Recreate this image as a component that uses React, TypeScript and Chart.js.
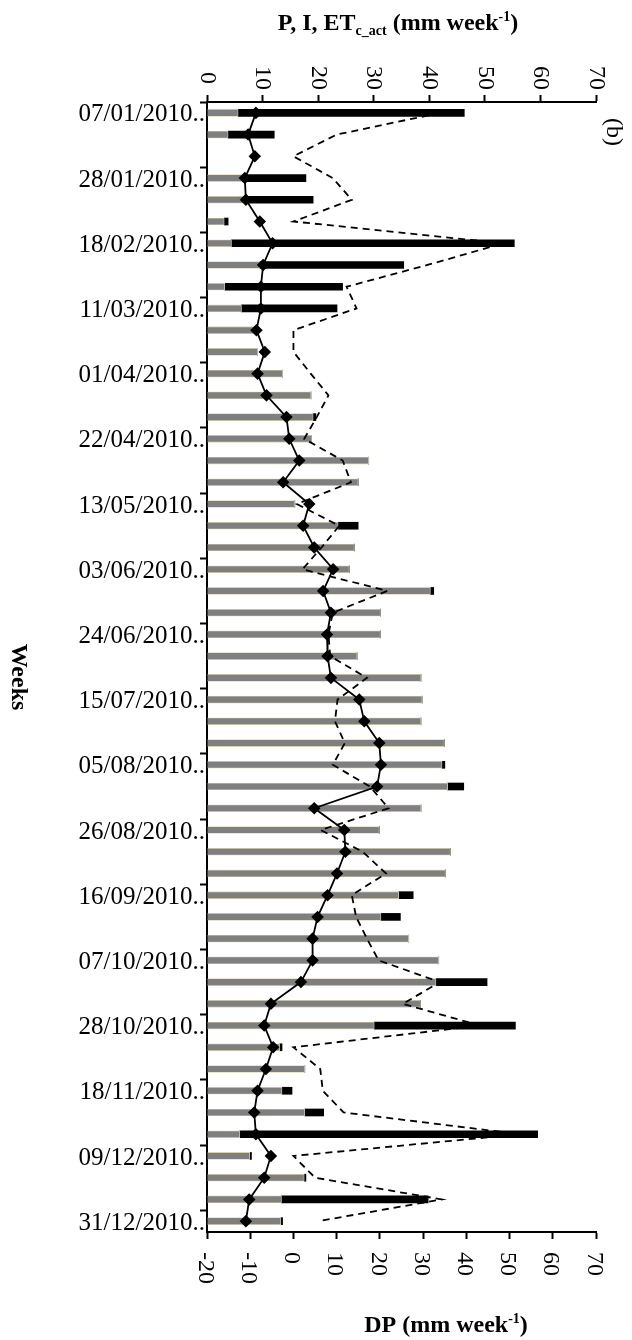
import React, { useEffect, useRef } from "react";
import { Chart, registerables } from "chart.js";

Chart.register(...registerables);

// Weekly dates (categories)
const weeks = [
  "07/01/2010", "14/01/2010", "21/01/2010", "28/01/2010",
  "04/02/2010", "11/02/2010", "18/02/2010", "25/02/2010",
  "04/03/2010", "11/03/2010", "18/03/2010", "25/03/2010",
  "01/04/2010", "08/04/2010", "15/04/2010", "22/04/2010", "29/04/2010",
  "06/05/2010", "13/05/2010", "20/05/2010", "27/05/2010",
  "03/06/2010", "10/06/2010", "17/06/2010", "24/06/2010",
  "01/07/2010", "08/07/2010", "15/07/2010", "22/07/2010", "29/07/2010",
  "05/08/2010", "12/08/2010", "19/08/2010", "26/08/2010",
  "02/09/2010", "09/09/2010", "16/09/2010", "23/09/2010", "30/09/2010",
  "07/10/2010", "14/10/2010", "21/10/2010", "28/10/2010",
  "04/11/2010", "11/11/2010", "18/11/2010", "25/11/2010",
  "02/12/2010", "09/12/2010", "16/12/2010", "23/12/2010", "31/12/2010",
];

// Grey bars (mm/week, top axis)
const irrigation = [
  5.6, 3.8, 0, 6.8, 6.8, 3.1, 4.4, 9.5, 3.2, 6.2,
  8.8, 9.1, 13.6, 18.7, 19.1, 18.8, 29.1, 27.2, 15.8, 23.6,
  26.5, 25.6, 40.2, 31.2, 31.2, 27.0, 38.5, 38.7, 38.5, 42.7,
  42.3, 43.3, 38.5, 31.0, 43.8, 42.9, 34.5, 31.3, 36.3, 41.7,
  41.2, 38.4, 30.1, 13.1, 17.6, 13.5, 17.6, 5.9, 7.7, 17.5,
  13.4, 13.3,
];

// Black bars (mm/week, top axis)
const precipitation = [
  40.7, 8.3, 0, 11.0, 12.3, 0.7, 50.9, 25.9, 21.2, 17.2,
  0, 0, 0, 0, 0.5, 0, 0, 0, 0, 3.6,
  0, 0, 0.6, 0, 0, 0, 0, 0, 0, 0,
  0.5, 2.9, 0, 0, 0, 0, 2.6, 3.5, 0, 0,
  9.2, 0, 25.4, 0.4, 0, 1.8, 3.4, 53.6, 0.3, 0.3,
  26.4, 0.3,
];

// ETc_act (solid line with diamonds, top axis)
const etcAct = [
  8.8, 7.4, 8.6, 6.8, 7.0, 9.5, 11.8, 10.1, 9.7, 9.7,
  8.9, 10.4, 9.1, 10.7, 14.3, 14.8, 16.6, 13.7, 18.4, 17.3,
  19.3, 22.7, 20.9, 22.3, 21.6, 21.7, 22.3, 27.4, 28.3, 31.0,
  31.3, 30.6, 19.3, 24.7, 24.9, 23.4, 21.7, 19.9, 19.0, 19.0,
  16.9, 11.5, 10.3, 11.9, 10.6, 9.1, 8.5, 8.8, 11.5, 10.3,
  7.6, 7.0,
];

// DP (dashed line, bottom axis)
const deepPercolation = [
  34.0, 10.0, 0, 9.1, 13.5, 0, 48.6, 31.0, 12.3, 14.6,
  0, 0, 4.0, 8.1, 5.4, 2.5, 11.4, 13.3, 0.8, 10.6,
  6.5, 2.1, 21.7, 9.1, 8.1, 8.5, 17.0, 10.2, 9.6, 11.9,
  9.1, 17.7, 22.0, 6.3, 16.0, 21.4, 13.5, 14.5, 17.0, 19.7,
  33.9, 25.3, 43.2, 0, 6.2, 6.8, 11.6, 52.5, 0, 5.0,
  34.3, 5.8,
];

const topTicks = [0, 10, 20, 30, 40, 50, 60, 70];
const bottomTicks = [-20, -10, 0, 10, 20, 30, 40, 50, 60, 70];

const FONT = "'Liberation Serif', 'Times New Roman', serif";

type Seg = { text: string; size: number; dy: number; bold: boolean };

function drawRich(ctx: CanvasRenderingContext2D, segs: Seg[], cx: number, baseline: number) {
  let total = 0;
  const widths: number[] = [];
  for (const s of segs) {
    ctx.font = `${s.bold ? "bold " : ""}${s.size}px ${FONT}`;
    const w = ctx.measureText(s.text).width;
    widths.push(w);
    total += w;
  }
  let x = cx - total / 2;
  ctx.textAlign = "left";
  ctx.textBaseline = "alphabetic";
  segs.forEach((s, i) => {
    ctx.font = `${s.bold ? "bold " : ""}${s.size}px ${FONT}`;
    ctx.fillText(s.text, x, baseline + s.dy);
    x += widths[i];
  });
}

function drawRotated(
  ctx: CanvasRenderingContext2D,
  text: string,
  x: number,
  y: number,
  font: string,
  align: CanvasTextAlign
) {
  ctx.save();
  ctx.translate(x, y);
  ctx.rotate(Math.PI / 2);
  ctx.font = font;
  ctx.textAlign = align;
  ctx.textBaseline = "middle";
  ctx.fillText(text, 0, 0);
  ctx.restore();
}

const textPlugin = {
  id: "customText",
  afterDraw(chart: any) {
    const ctx: CanvasRenderingContext2D = chart.ctx;
    const xs = chart.scales.x;
    const x2 = chart.scales.x2;
    const ys = chart.scales.y;
    ctx.save();
    ctx.fillStyle = "#000";

    // Week labels
    ctx.font = `25px ${FONT}`;
    ctx.textAlign = "right";
    ctx.textBaseline = "middle";
    weeks.forEach((w, i) => {
      if (i % 3 === 0) {
        const y = ys.getPixelForValue(i);
        ctx.fillText(w + "..", 205, y + 2);
      }
    });

    // Top tick labels
    topTicks.forEach((v) => {
      drawRotated(ctx, String(v), xs.getPixelForValue(v), 78, `24px ${FONT}`, "center");
    });

    // Bottom tick labels
    bottomTicks.forEach((v) => {
      drawRotated(ctx, String(v), x2.getPixelForValue(v) - 2, 1252, `24px ${FONT}`, "left");
    });

    // (b)
    drawRotated(ctx, "(b)", 613, 132, `24px ${FONT}`, "center");

    // Weeks title
    drawRotated(ctx, "Weeks", 18, 677, `bold 24px ${FONT}`, "center");

    // Top title
    drawRich(
      ctx,
      [
        { text: "P, I, ET", size: 24, dy: 0, bold: true },
        { text: "c_act", size: 14, dy: 5, bold: true },
        { text: " (mm week", size: 24, dy: 0, bold: true },
        { text: "-1", size: 14, dy: -9, bold: true },
        { text: ")", size: 24, dy: 0, bold: true },
      ],
      398,
      30
    );

    // Bottom title
    drawRich(
      ctx,
      [
        { text: "DP (mm week", size: 24, dy: 0, bold: true },
        { text: "-1", size: 14, dy: -9, bold: true },
        { text: ")", size: 24, dy: 0, bold: true },
      ],
      446,
      1332
    );

    ctx.restore();
  },
};

export default function App() {
  const canvasRef = useRef<HTMLCanvasElement | null>(null);

  useEffect(() => {
    const canvas = canvasRef.current;
    if (!canvas) return;
    const indices = weeks.map((_, i) => i);
    const axisGrid = {
      drawOnChartArea: false,
      drawTicks: true,
      tickLength: 7,
      tickWidth: 2,
      tickColor: "#000",
      color: "#000",
    };
    const chart = new Chart(canvas, {
      type: "bar",
      data: {
        labels: indices as any,
        datasets: [
          {
            type: "line",
            label: "ETc_act",
            data: etcAct,
            indexAxis: "y",
            xAxisID: "x",
            yAxisID: "y",
            stack: "et",
            borderColor: "#000",
            borderWidth: 1.8,
            pointStyle: "rectRot",
            pointRadius: 5,
            pointBackgroundColor: "#000",
            pointBorderColor: "#000",
            tension: 0,
            fill: false,
          } as any,
          {
            type: "line",
            label: "DP",
            data: deepPercolation,
            indexAxis: "y",
            xAxisID: "x2",
            yAxisID: "y",
            stack: "dp",
            borderColor: "#000",
            borderWidth: 1.8,
            borderDash: [7, 5],
            pointRadius: 0,
            tension: 0,
            fill: false,
          } as any,
          {
            type: "bar",
            label: "I",
            data: irrigation,
            indexAxis: "y",
            xAxisID: "x",
            yAxisID: "y",
            stack: "pi",
            backgroundColor: "#7f7f7f",
            borderColor: "#d9d3b5",
            borderWidth: 0.8,
            barThickness: 7,
          } as any,
          {
            type: "bar",
            label: "P",
            data: precipitation,
            indexAxis: "y",
            xAxisID: "x",
            yAxisID: "y",
            stack: "pi",
            backgroundColor: "#000",
            borderWidth: 0,
            barThickness: 7,
          } as any,
        ],
      },
      options: {
        indexAxis: "y",
        animation: false,
        responsive: false,
        maintainAspectRatio: false,
        layout: { padding: { left: 0, right: 36, top: 0, bottom: 0 } },
        plugins: {
          legend: { display: false },
          tooltip: { enabled: false },
          title: { display: false },
        },
        scales: {
          x: {
            type: "linear",
            position: "top",
            min: 0,
            max: 70,
            stacked: true,
            ticks: { display: false, stepSize: 10 },
            grid: axisGrid,
            border: { display: true, color: "#000", width: 2 },
            afterFit: (s: any) => {
              s.height = 102;
            },
          },
          x2: {
            type: "linear",
            axis: "x",
            position: "bottom",
            min: -20,
            max: 70,
            ticks: { display: false, stepSize: 10 },
            grid: axisGrid,
            border: { display: true, color: "#000", width: 2 },
            afterFit: (s: any) => {
              s.height = 108;
            },
          },
          y: {
            type: "category",
            position: "left",
            offset: true,
            stacked: true,
            ticks: { display: false, autoSkip: false },
            grid: {
              offset: true,
              drawOnChartArea: false,
              drawTicks: true,
              tickLength: 7,
              tickWidth: 2,
              color: "#000",
              tickColor: (c: any) => (c.index % 3 === 0 ? "#000" : "rgba(0,0,0,0)"),
            },
            border: { display: true, color: "#000", width: 2 },
            afterFit: (s: any) => {
              s.width = 207;
            },
          },
        } as any,
      },
      plugins: [textPlugin],
    });
    return () => chart.destroy();
  }, []);

  return (
    <div style={{ position: "absolute", left: 0, top: 0, width: 632, height: 1340, background: "#fff" }}>
      <canvas ref={canvasRef} width={632} height={1340} style={{ width: 632, height: 1340, display: "block" }} />
    </div>
  );
}
